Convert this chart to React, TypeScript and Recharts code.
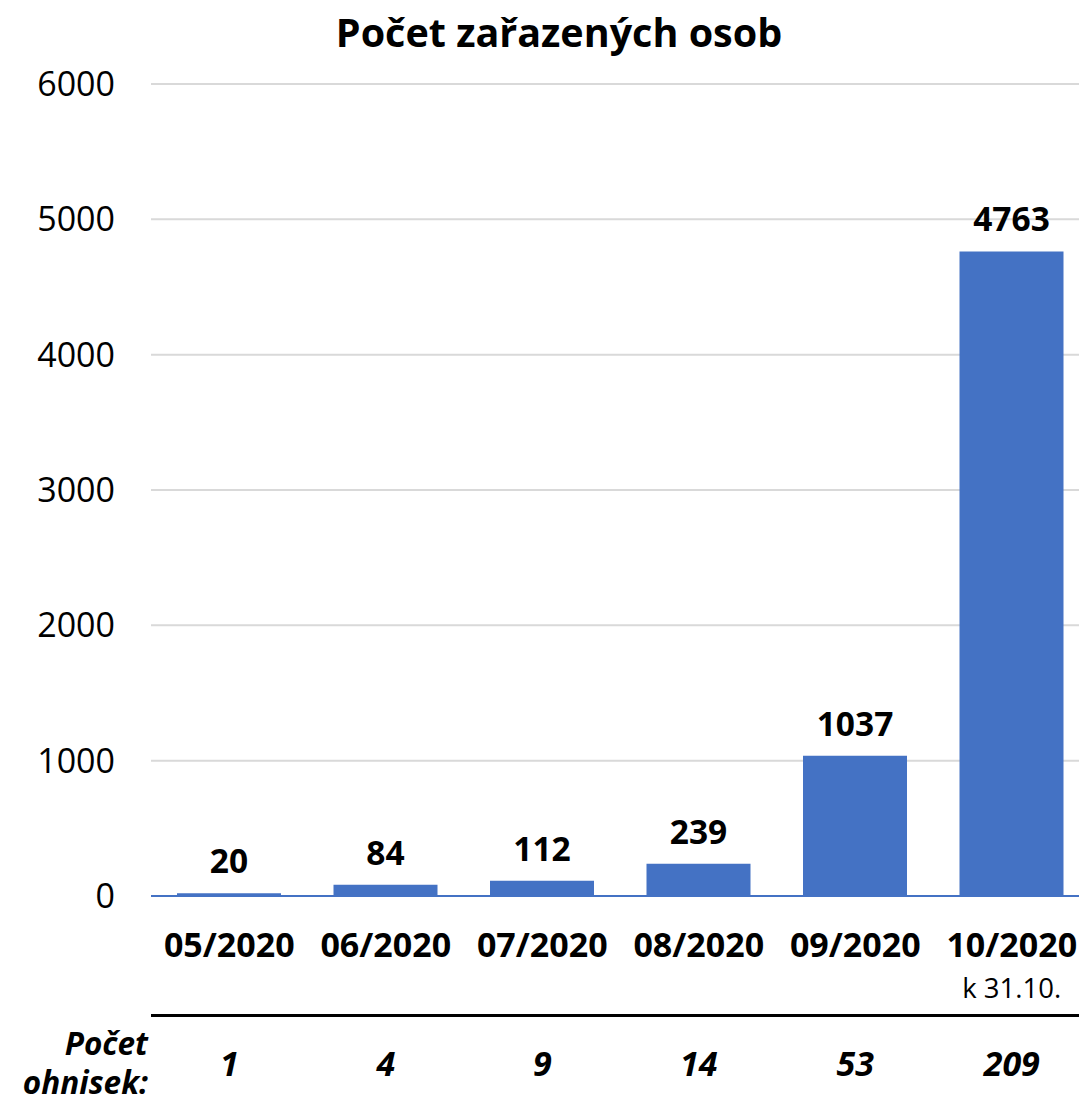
import React from "react";
import { BarChart, Bar, XAxis, YAxis, CartesianGrid, LabelList } from "recharts";

const months = ["05/2020", "06/2020", "07/2020", "08/2020", "09/2020", "10/2020"];
const monthNotes = ["", "", "", "", "", "k 31.10."];
const persons = [20, 84, 112, 239, 1037, 4763];
const outbreaks = [1, 4, 9, 14, 53, 209];
const yTicks = [0, 1000, 2000, 3000, 4000, 5000, 6000];

const FONT = "'Open Sans', 'DejaVu Sans', sans-serif";
const BLUE = "#4472c4";

const data = months.map((m, i) => ({ month: m, persons: persons[i] }));

function MonthTick(props: any) {
  const { x, y, payload } = props;
  const i = months.indexOf(payload.value);
  return (
    <g>
      <text x={x} y={y + 48} textAnchor="middle" dominantBaseline="central"
        fontFamily={FONT} fontSize={34} fontWeight={700} fill="#000">
        {payload.value}
      </text>
      {monthNotes[i] ? (
        <text x={x} y={y + 91} textAnchor="middle" dominantBaseline="central"
          fontFamily={FONT} fontSize={27.5} fill="#000">
          {monthNotes[i]}
        </text>
      ) : null}
      <text x={x} y={y + 167} textAnchor="middle" dominantBaseline="central"
        fontFamily={FONT} fontSize={34} fontWeight={700} fontStyle="italic" fill="#000">
        {outbreaks[i]}
      </text>
    </g>
  );
}

const sideLabel: React.CSSProperties = {
  position: "absolute", left: 0, width: 148, textAlign: "right",
  fontFamily: FONT, fontSize: 31.5, fontWeight: 700, fontStyle: "italic", lineHeight: "34px",
};

export default function App() {
  return (
    <div style={{ position: "absolute", left: 0, top: 0, width: 1079, height: 1102, overflow: "hidden", background: "#fff" }}>
      <div style={{ position: "absolute", left: 0, top: 10, width: 1118, textAlign: "center",
        fontFamily: FONT, fontSize: 39.5, fontWeight: 700, lineHeight: "44px" }}>
        Počet zařazených osob
      </div>
      <div style={{ position: "absolute", left: 151, top: 1014, width: 940, height: 3, background: "#000" }} />
      <div style={{ ...sideLabel, top: 1026 }}>Počet</div>
      <div style={{ ...sideLabel, top: 1065 }}>ohnisek:</div>
      <BarChart width={1100} height={1102} data={data}
        margin={{ top: 84, right: 10, bottom: 0, left: 0 }}>
        <CartesianGrid vertical={false} stroke="#d9d9d9" strokeWidth={2} />
        <YAxis type="number" domain={[0, 6000]} ticks={yTicks} width={151}
          axisLine={false} tickLine={false} tickSize={0} tickMargin={36}
          tick={{ fontFamily: FONT, fontSize: 34, fill: "#000" }} />
        <XAxis dataKey="month" height={206} interval={0}
          axisLine={{ stroke: BLUE, strokeWidth: 2 }} tickLine={false} tickSize={0}
          tickMargin={0} tick={<MonthTick />} />
        <Bar dataKey="persons" fill={BLUE} barSize={104} isAnimationActive={false}>
          <LabelList dataKey="persons" position="top" offset={20}
            fontFamily={FONT} fontSize={33.5} fontWeight={700} fill="#000" />
        </Bar>
      </BarChart>
    </div>
  );
}
